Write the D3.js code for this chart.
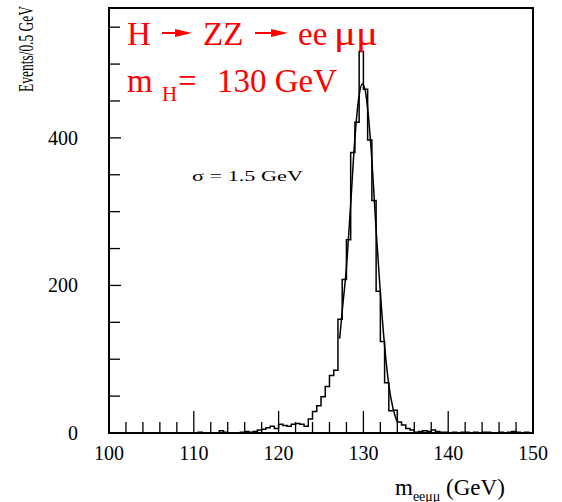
<!DOCTYPE html>
<html>
<head>
<meta charset="utf-8">
<script src="https://cdn.jsdelivr.net/npm/d3@7"></script>
<style>
  body { margin: 0; background: #fff; }
</style>
</head>
<body>
<div id="chart"></div>
<script>
// histogram: 0.5 GeV bins from 100 to 150 GeV
const binEdges = d3.range(100, 150, 0.5);
const counts = [
  0, 0, 0, 0, 0, 0, 0, 0, 0, 0,
  0, 0, 0, 0, 0, 0, 0, 0, 0, 0,
  0, 1, 0, 0, 0, 0, 3, 1, 0, 0,
  0, 1, 2, 1, 2, 4, 5, 7, 9, 6,
  12, 10, 9, 12, 13, 12, 9, 19, 29, 37,
  49, 63, 78, 85, 154, 208, 262, 380, 421, 517,
  466, 397, 315, 192, 124, 68, 30, 31, 15, 11,
  6, 4, 1, 2, 3, 2, 4, 2, 1, 1,
  0, 1, 0, 1, 1, 0, 1, 0, 1, 1,
  0, 0, 1, 0, 1, 2, 1, 0, 1, 0
];

// fitted curve, points
const fitMass = [127.2, 127.5, 128.0, 128.5, 129.0, 129.5, 129.85, 130.2, 130.5, 131.0, 131.5, 132.0, 132.5, 133.0, 133.5, 133.95];
const fitValue = [128, 165, 225, 310, 400, 458, 473, 465, 440, 370, 275, 190, 118, 65, 33, 16];

const xTicks = [100, 110, 120, 130, 140, 150];
const yTicks = [0, 200, 400];

const width = 562, height = 502;
const plotLeft = 109, plotRight = 533, plotTop = 8, plotBottom = 433;
const serif = '"Liberation Serif"';

const svg = d3.select('#chart').append('svg')
  .attr('width', width)
  .attr('height', height);

const x = d3.scaleLinear().domain([100, 150]).range([plotLeft, plotRight]);
const y = d3.scaleLinear().domain([0, 576]).range([plotBottom, plotTop]);

// ticks
const xMinor = d3.range(100, 150.01, 2);
svg.append('g').selectAll('line')
  .data(xMinor)
  .enter().append('line')
  .attr('x1', d => x(d)).attr('x2', d => x(d))
  .attr('y1', plotBottom)
  .attr('y2', d => plotBottom - (d % 10 === 0 ? 22 : 11))
  .attr('stroke', '#000').attr('stroke-width', 1.3);

const yMinor = d3.range(0, 576, 50);
svg.append('g').selectAll('line')
  .data(yMinor)
  .enter().append('line')
  .attr('x1', plotLeft)
  .attr('x2', d => plotLeft + (d % 200 === 0 ? 12 : 11))
  .attr('y1', d => y(d)).attr('y2', d => y(d))
  .attr('stroke', '#000').attr('stroke-width', 1.3);

// tick labels
svg.append('g').selectAll('text')
  .data(xTicks)
  .enter().append('text')
  .attr('x', d => x(d))
  .attr('y', 460)
  .attr('text-anchor', 'middle')
  .attr('font-family', serif)
  .attr('font-size', 20)
  .text(d => d);

svg.append('g').selectAll('text')
  .data(yTicks)
  .enter().append('text')
  .attr('x', 78)
  .attr('y', d => y(d) + 7)
  .attr('text-anchor', 'end')
  .attr('font-family', serif)
  .attr('font-size', 20)
  .text(d => d);

// histogram
const stepPts = binEdges.map((e, i) => [e, counts[i]]);
stepPts.push([150, counts[counts.length - 1]]);
svg.append('path')
  .datum(stepPts)
  .attr('fill', 'none')
  .attr('stroke', '#000')
  .attr('stroke-width', 1.5)
  .attr('d', d3.line().x(d => x(d[0])).y(d => y(d[1])).curve(d3.curveStepAfter));

// fit
svg.append('path')
  .datum(fitMass.map((m, i) => [m, fitValue[i]]))
  .attr('fill', 'none')
  .attr('stroke', '#000')
  .attr('stroke-width', 1.5)
  .attr('d', d3.line().x(d => x(d[0])).y(d => y(d[1])).curve(d3.curveMonotoneX));

// frame
svg.append('rect')
  .attr('x', plotLeft).attr('y', plotTop)
  .attr('width', plotRight - plotLeft).attr('height', plotBottom - plotTop)
  .attr('fill', 'none')
  .attr('stroke', '#000')
  .attr('stroke-width', 2);

// axis titles
svg.append('text')
  .attr('transform', 'translate(33,49) rotate(-90)')
  .attr('text-anchor', 'middle')
  .attr('textLength', 86)
  .attr('lengthAdjust', 'spacingAndGlyphs')
  .attr('font-family', serif)
  .attr('font-size', 21)
  .text('Events/0.5 GeV');

const xt = svg.append('text')
  .attr('x', 395).attr('y', 495)
  .attr('font-family', serif)
  .attr('font-size', 23);
xt.append('tspan').text('m');
xt.append('tspan').attr('dy', 6).attr('font-size', 14).text('eeμμ');
xt.append('tspan').attr('dy', -6).text(' (GeV)');

// sigma label
svg.append('text')
  .attr('x', 192).attr('y', 181)
  .attr('textLength', 111)
  .attr('lengthAdjust', 'spacingAndGlyphs')
  .attr('font-family', serif)
  .attr('font-size', 14)
  .text('σ = 1.5 GeV');

// red title
const red = '#ff0000';
const t1 = svg.append('g').attr('fill', red).attr('font-size', 33);
t1.append('text').attr('x', 127).attr('y', 45).attr('font-family', serif).text('H');
t1.append('text').attr('x', 203).attr('y', 45).attr('font-family', serif).text('ZZ');
t1.append('text').attr('x', 298).attr('y', 45).attr('font-family', serif).text('ee');
t1.append('text').attr('x', 334).attr('y', 45).attr('font-family', serif)
  .attr('textLength', 44).attr('lengthAdjust', 'spacingAndGlyphs').text('μμ');

function arrow(x0, x1) {
  svg.append('line')
    .attr('x1', x0).attr('x2', x1 - 14)
    .attr('y1', 33).attr('y2', 33)
    .attr('stroke', red).attr('stroke-width', 2);
  svg.append('path')
    .attr('d', `M${x1 - 17},29 L${x1},33 L${x1 - 17},37 Z`)
    .attr('fill', red);
}
arrow(162, 192);
arrow(255, 288);

const t2 = svg.append('g').attr('fill', red).attr('font-size', 33);
t2.append('text').attr('x', 127).attr('y', 92).attr('font-family', serif).text('m');
t2.append('text').attr('x', 162).attr('y', 101).attr('font-family', serif).attr('font-size', 21).text('H');
t2.append('text').attr('x', 178).attr('y', 92).attr('font-family', serif).text('=');
t2.append('text').attr('x', 217).attr('y', 92).attr('font-family', serif).text('130 GeV');
</script>
</body>
</html>
